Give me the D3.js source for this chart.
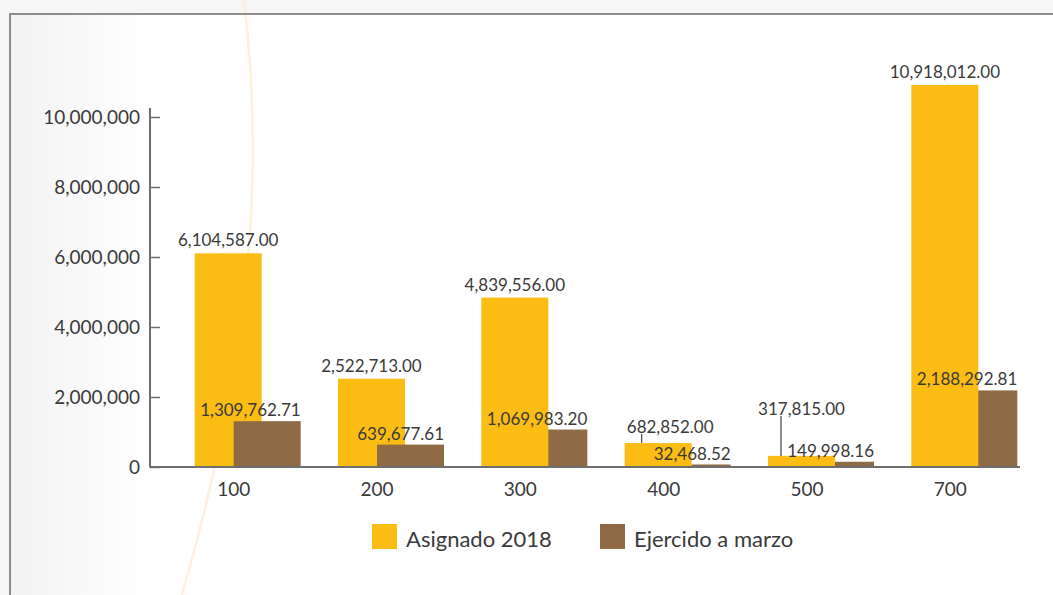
<!DOCTYPE html>
<html><head><meta charset="utf-8">
<script src="https://cdn.jsdelivr.net/npm/d3@7"></script>
<style>
html,body{margin:0;padding:0;background:#f4f4f4;}
svg{display:block;}
</style></head>
<body>
<svg id="chart" width="1053" height="595"></svg>
<script>
const categories = ["100", "200", "300", "400", "500", "700"];
const asignado = [6104587.00, 2522713.00, 4839556.00, 682852.00, 317815.00, 10918012.00];
const ejercido = [1309762.71, 639677.61, 1069983.20, 32468.52, 149998.16, 2188292.81];
const yTicks = [0, 2000000, 4000000, 6000000, 8000000, 10000000];
const seriesNames = ["Asignado 2018", "Ejercido a marzo"];

const colors = {asig: "#FBBC13", ejer: "#8E6B45", text: "#3a3a3a", axis: "#6e6e6e"};
const yellowLabelLift = {"400": 3, "500": 34};
const yellowLabelShift = {"400": 12};
const leaderCats = {"400": -22, "500": -26};
const brownOnTop = new Set(["100", "200"]);

const svg = d3.select("#chart");
const W = 1053, H = 595;

// background
const defs = svg.append("defs");
const g1 = defs.append("linearGradient").attr("id","leftfade").attr("x1","0").attr("x2","1");
g1.append("stop").attr("offset","0").attr("stop-color","#f1f1f1");
g1.append("stop").attr("offset","1").attr("stop-color","#ffffff");
svg.append("rect").attr("width",W).attr("height",H).attr("fill","#f6f6f6");
svg.append("rect").attr("x",10).attr("y",14).attr("width",W-10).attr("height",H-14).attr("fill","#ffffff");
svg.append("rect").attr("x",10).attr("y",14).attr("width",140).attr("height",H-14).attr("fill","url(#leftfade)").attr("opacity",0.9);
// faint decorative arc
svg.append("path")
  .attr("d","M 244 0 C 262 150, 258 330, 182 595")
  .attr("fill","none").attr("stroke","#fdebcf").attr("stroke-width",2.5).attr("opacity",0.75);
// frame
svg.append("path").attr("d",`M 10 ${H} L 10 14 L ${W} 14`).attr("fill","none")
  .attr("stroke","#6a6a6a").attr("stroke-width",1.5);

const x = d3.scaleBand().domain(categories).range([162, 1022]).paddingInner(0).paddingOuter(0);
const y = d3.scaleLinear().domain([0, 10000000]).range([467, 117]);
const barW = 67, yOff = -39;

const font = "Lato, 'Open Sans', sans-serif";

// y axis
const yAxis = d3.axisLeft(y).tickValues(yTicks).tickFormat(d3.format(",")).tickSizeInner(-10).tickSizeOuter(0).tickPadding(10);
const ga = svg.append("g").attr("transform","translate(150,0)").call(yAxis);
ga.select(".domain").remove();
ga.selectAll(".tick line").attr("stroke",colors.axis).attr("stroke-width",1.5);
ga.selectAll(".tick text").attr("fill",colors.text).style("font-family",font).style("font-size","19px");
svg.append("line").attr("x1",150).attr("x2",150).attr("y1",108).attr("y2",467.5)
  .attr("stroke",colors.axis).attr("stroke-width",2);

const cx = c => x(c) + x.bandwidth()/2;
const rows = categories.map((c,i) => ({c, a: asignado[i], e: ejercido[i]}));

function brownBars(sel, cls) {
  svg.selectAll("rect."+cls).data(sel).join("rect").attr("class",cls)
    .attr("x", d => cx(d.c)).attr("width", barW)
    .attr("y", d => Math.min(y(d.e), y(0) - 2.5)).attr("height", d => Math.max(2.5, y(0) - y(d.e)))
    .attr("fill", colors.ejer);
}
// bars (drawing order as in the reference)
brownBars(rows.filter(d => !brownOnTop.has(d.c)), "ejerB");
svg.selectAll("rect.asig").data(rows).join("rect").attr("class","asig")
  .attr("x", d => cx(d.c) + yOff).attr("width", barW)
  .attr("y", d => y(d.a)).attr("height", d => y(0) - y(d.a))
  .attr("fill", colors.asig);
brownBars(rows.filter(d => brownOnTop.has(d.c)), "ejerF");

// x baseline
svg.append("line").attr("x1",150).attr("x2",1020).attr("y1",467).attr("y2",467)
  .attr("stroke",colors.axis).attr("stroke-width",2);

// x labels
svg.selectAll("text.xl").data(categories).join("text").attr("class","xl")
  .attr("x", c => cx(c)).attr("y", 496).attr("text-anchor","middle")
  .attr("fill",colors.text).style("font-family",font).style("font-size","19px").text(c => c);

const fmt = d3.format(",.2f");
// leader lines
rows.forEach(d => {
  if (leaderCats[d.c] === undefined) return;
  const top = y(d.a);
  const lx = cx(d.c) + leaderCats[d.c];
  const ty = top - 7 - (yellowLabelLift[d.c]||0);
  svg.append("line").attr("x1",lx).attr("x2",lx).attr("y1",ty+1).attr("y2",top)
    .attr("stroke","#444").attr("stroke-width",1.2);
});
// yellow labels
svg.selectAll("text.al").data(rows).join("text").attr("class","al")
  .attr("x", d => cx(d.c) + yOff + barW/2 + (yellowLabelShift[d.c]||0))
  .attr("y", d => y(d.a) - 7 - (yellowLabelLift[d.c]||0))
  .attr("text-anchor","middle").attr("fill",colors.text)
  .style("font-family",font).style("font-size","17px").text(d => fmt(d.a));
// brown labels
svg.selectAll("text.el").data(rows).join("text").attr("class","el")
  .attr("x", d => cx(d.c) + barW).attr("y", d => Math.min(y(d.e), y(0) - 2.5) - 5)
  .attr("text-anchor","end").attr("fill",colors.text)
  .style("font-family",font).style("font-size","17px").text(d => fmt(d.e));

// legend
const legendX = [372, 600];
const lg = svg.selectAll("g.lg").data(seriesNames).join("g").attr("class","lg")
  .attr("transform",(d,i)=>`translate(${legendX[i]},524)`);
lg.append("rect").attr("width",25).attr("height",25).attr("fill",(d,i)=> i===0?colors.asig:colors.ejer);
lg.append("text").attr("x",34).attr("y",23).attr("fill",colors.text)
  .style("font-family",font).style("font-size","22px").text(d=>d);
</script>
</body></html>
